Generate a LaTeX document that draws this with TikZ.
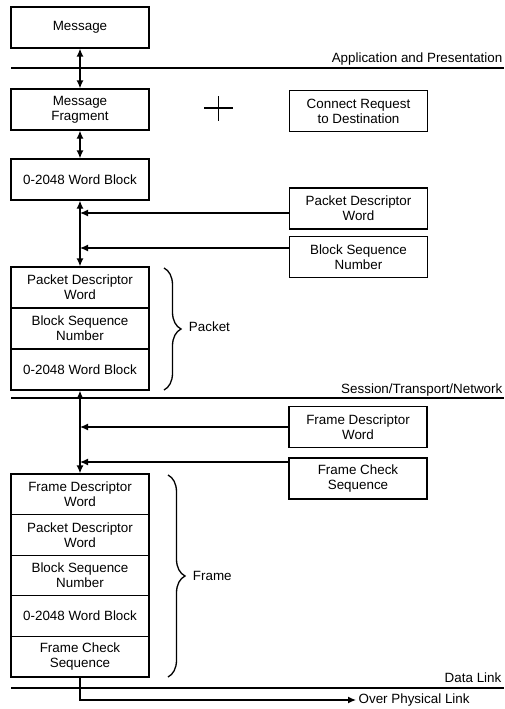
\documentclass[tikz,border=0pt]{standalone}
\usepackage{fontspec}
\setmainfont{Liberation Sans}
\usetikzlibrary{arrows.meta,decorations.pathreplacing}
\begin{document}
\begin{tikzpicture}[x=1pt,y=-1pt,line width=1.3pt,
		>={Latex[length=8pt,width=7pt]},
		every node/.style={font=\fontsize{13.4}{15}\selectfont},
		blk/.style={draw, minimum width=138pt, minimum height=41pt, align=center, inner sep=1pt},
		layer/.style={anchor=base east, inner sep=0pt},
		grp/.style={decorate, decoration={brace, amplitude=17pt}}]
	\useasboundingbox (0,0) rectangle (504,709);
	% layers
	\draw (11,68) -- (504,68);
	\node [layer] (app) at (503,63) {Application and Presentation};
	\draw (11,398) -- (504,398);
	\node [layer] (stn) at (503,393) {Session/Transport/Network};
	\draw (11,688) -- (504,688);
	\node [layer] (dl) at (502,682) {Data Link};
	% message
	\node [blk] (msg) at (80,27.5) {Message};
	\node [blk] (frag) at (80,109.5) {Message\\Fragment};
	\node [blk] (wb) at (80,179.5) {0-2048 Word Block};
	\draw [line width=1.1pt] (204,108) -- (233,108) (218.5,96) -- (218.5,121);
	\node [blk] (conn) at (358.5,111) {Connect Request\\to Destination};
	\draw [<->] (msg) -- (frag);
	\draw [<->] (frag) -- (wb);
	% packet
	\node [blk] (pdwR) at (358.5,208.5) {Packet Descriptor\\Word};
	\node [blk] (bsnR) at (358.5,257) {Block Sequence\\Number};
	\node [blk] (pdwP) at (80,287.5) {Packet Descriptor\\Word};
	\node [blk] (bsnP) at (80,328.5) {Block Sequence\\Number};
	\node [blk] (wbP) at (80,369.5) {0-2048 Word Block};
	\coordinate (in1) at (80,213);
	\coordinate (in2) at (80,248);
	\draw [->] (pdwR.west |- in1) -- (in1);
	\draw [->] (bsnR.west |- in2) -- (in2);
	\draw [<->] (wb) -- (pdwP);
	\draw [grp] (164,268) -- (164,390);
	\node [anchor=west] (pkt) at (185,327) {Packet};
	% frame
	\node [blk] (fdwR) at (358,427) {Frame Descriptor\\Word};
	\node [blk] (fcsR) at (358,478.5) {Frame Check\\Sequence};
	\node [blk, minimum height=40.6pt] (fdwF) at (80,494.3) {Frame Descriptor\\Word};
	\node [blk, minimum height=40.6pt] (pdwF) at (80,534.9) {Packet Descriptor\\Word};
	\node [blk, minimum height=40.6pt] (bsnF) at (80,575.5) {Block Sequence\\Number};
	\node [blk, minimum height=40.6pt] (wbF) at (80,616.1) {0-2048 Word Block};
	\node [blk, minimum height=40.6pt] (fcsF) at (80,656.7) {Frame Check\\Sequence};
	\coordinate (in3) at (80,427);
	\coordinate (in4) at (80,462);
	\draw [->] (fdwR.west |- in3) -- (in3);
	\draw [->] (fcsR.west |- in4) -- (in4);
	\draw [<->] (wbP) -- (fdwF);
	\draw [grp] (168,475) -- (168,677);
	\node [anchor=west] (frm) at (189,576) {Frame};
	% out
	\node [anchor=west, inner sep=2pt] (phys) at (356,700) {Over Physical Link};
	\draw [->] (fcsF.south) |- (phys.west);
\end{tikzpicture}
\end{document}
